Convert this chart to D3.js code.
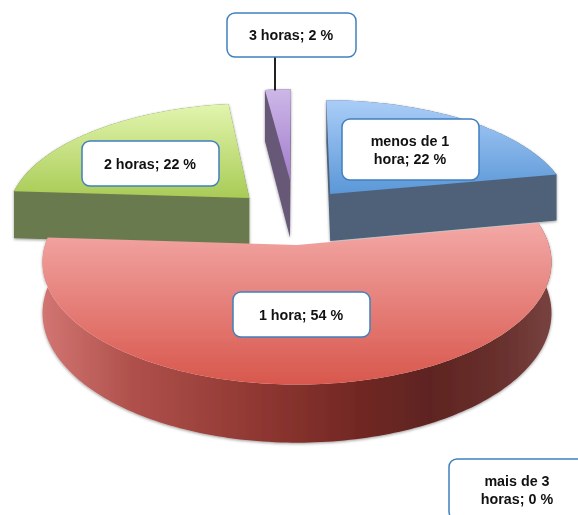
<!DOCTYPE html>
<html>
<head>
<meta charset="utf-8">
<script src="https://cdn.jsdelivr.net/npm/d3@7"></script>
<style>html,body{margin:0;padding:0;background:#fff;overflow:hidden}svg{display:block}</style>
</head>
<body>
<svg id="chart" width="578" height="515"></svg>
<script>
// Data
const categories = ["menos de 1 hora", "1 hora", "2 horas", "3 horas", "mais de 3 horas"];
const values = [22, 54, 22, 2, 0];

// Per-slice styling and explosion offsets, in disc units
const offsetU = [0.14, 0, -0.2, -0.03, 0];
const offsetV = [-0.452, 0, -0.414, -0.586, 0];
const depthScale = [1, 1, 1, 1.25, 1];
const topColors = [["#AACDF7", "#5B97D8"], ["#F3A8A6", "#D8574D"], ["#E2F5AE", "#A9CB56"], ["#CDB8E8", "#A27CCB"], ["#ccc", "#ccc"]];
const sideColors = ["#4F6179", "url(#redSide)", "#6A7A50", "#675878", "#999"];
const labelBoxes = [
  {x: 342, y: 119, w: 137, h: 61},
  {x: 233, y: 292, w: 137, h: 45},
  {x: 82, y: 141, w: 137, h: 45},
  {x: 227, y: 13, w: 129, h: 44},
  {x: 449, y: 459, w: 137, h: 61}
];

// Perspective disc projection
const cx = 297, cy = 245, R = 252, Ry = 120, k = 0.14, depth = 50;
const project = (u, v, h = 0) => {
  const w = 1 - k * v;
  return [cx + R * u / w, cy + (Ry * v + depth * h) / w];
};

const svg = d3.select("#chart");
const defs = svg.append("defs");

const shadow = defs.append("filter").attr("id", "shade")
  .attr("x", "-10%").attr("y", "-10%").attr("width", "120%").attr("height", "125%");
shadow.append("feDropShadow").attr("dx", 0).attr("dy", 1).attr("stdDeviation", 1.8)
  .attr("flood-color", "#000").attr("flood-opacity", 0.4);
const soft = defs.append("filter").attr("id", "soft");
soft.append("feGaussianBlur").attr("stdDeviation", 0.5);

const redStops = [[43,"#D27572"],[130,"#B0514C"],[270,"#8C3530"],[370,"#6E2622"],[430,"#5F2421"],[500,"#68302D"],[551,"#77423F"]];
const redSide = defs.append("linearGradient").attr("id", "redSide")
  .attr("gradientUnits", "userSpaceOnUse").attr("x1", 43).attr("x2", 551).attr("y1", 0).attr("y2", 0);
redStops.forEach(([x, c]) => redSide.append("stop").attr("offset", (x - 43) / 508).attr("stop-color", c));

const arcs = d3.pie().sort(null).startAngle(0).endAngle(2 * Math.PI)(values);
const line = d3.line();

const geometry = arcs.map((a, i) => {
  const n = Math.max(2, Math.ceil((a.endAngle - a.startAngle) / 0.02));
  const ring = d3.range(n + 1).map(j => {
    const t = a.startAngle + (a.endAngle - a.startAngle) * j / n;
    return [Math.sin(t) + offsetU[i], -Math.cos(t) + offsetV[i]];
  });
  return {i, ring, outline: [[offsetU[i], offsetV[i]], ...ring], value: a.value, span: a.endAngle - a.startAngle};
}).filter(d => d.value > 0);

geometry.forEach(d => {
  const top = d.outline.map(p => project(p[0], p[1]));
  const ys = top.map(p => p[1]);
  const g = defs.append("linearGradient").attr("id", "top" + d.i)
    .attr("gradientUnits", "userSpaceOnUse").attr("x1", 0).attr("x2", 0)
    .attr("y1", d3.min(ys)).attr("y2", d3.max(ys));
  g.append("stop").attr("offset", 0).attr("stop-color", topColors[d.i][0]);
  g.append("stop").attr("offset", 1).attr("stop-color", topColors[d.i][1]);
});

// paint order: back wedges first, the big front wedge last
const order = [2, 0, 3, 1];
const pie = svg.append("g").attr("filter", "url(#soft)");
order.forEach(i => {
  const d = geometry.find(g => g.i === i);
  const h = depthScale[i];
  let wall;
  if (d.span > Math.PI) {
    // reflex wedge: only the curved outer band shows
    wall = [...d.ring.map(p => project(p[0], p[1])), ...d.ring.slice().reverse().map(p => project(p[0], p[1], h))];
  } else {
    // convex wedge: the extruded silhouette is the hull of both outlines
    wall = d3.polygonHull([...d.outline.map(p => project(p[0], p[1])), ...d.outline.map(p => project(p[0], p[1], h))]);
  }
  pie.append("path").attr("d", line(wall) + "Z").attr("fill", sideColors[i]).attr("filter", "url(#shade)");
  pie.append("path").attr("d", line(d.outline.map(p => project(p[0], p[1]))) + "Z")
    .attr("fill", "url(#top" + i + ")");
});

// leader line for the small slice
const smallIdx = 3;
const leaderX = labelBoxes[smallIdx].x + 48;
svg.append("line")
  .attr("x1", leaderX).attr("x2", leaderX)
  .attr("y1", labelBoxes[smallIdx].y + labelBoxes[smallIdx].h)
  .attr("y2", project(offsetU[smallIdx] + Math.sin(6.2), -Math.cos(6.2) + offsetV[smallIdx])[1] + 1)
  .attr("stroke", "#222").attr("stroke-width", 2);

// labels
const wrap = s => {
  const lines = [];
  let cur = "";
  s.split(" ").forEach(w => {
    const next = cur ? cur + " " + w : w;
    if (next.length > 13) { lines.push(cur); cur = w; } else cur = next;
  });
  lines.push(cur);
  return lines;
};
const lineHeight = 18;
categories.forEach((c, i) => {
  const b = labelBoxes[i];
  const g = svg.append("g");
  g.append("rect").attr("x", b.x).attr("y", b.y).attr("width", b.w).attr("height", b.h)
    .attr("rx", 8).attr("ry", 8).attr("fill", "#fff").attr("stroke", "#3F80BE").attr("stroke-width", 1.5);
  const lines = wrap(`${c}; ${values[i]} %`);
  lines.forEach((t, j) => {
    g.append("text").attr("x", b.x + b.w / 2 - 0.5)
      .attr("y", b.y + b.h / 2 + (j - (lines.length - 1) / 2) * lineHeight)
      .attr("dy", "0.35em").attr("text-anchor", "middle")
      .attr("font-family", "'Liberation Sans', Arial, sans-serif")
      .attr("font-weight", "bold").attr("font-size", 14.3).attr("fill", "#111")
      .text(t);
  });
});
</script>
</body>
</html>
